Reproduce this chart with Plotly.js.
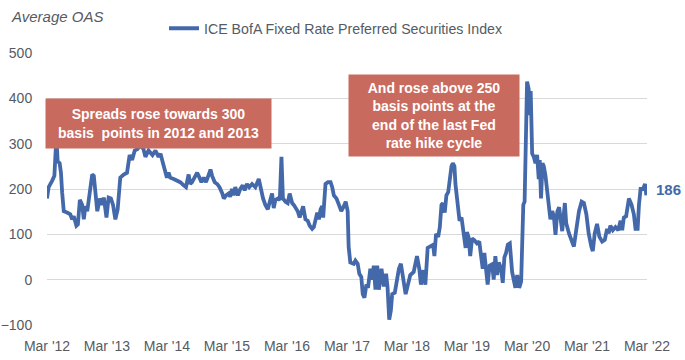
<!DOCTYPE html>
<html>
<head>
<meta charset="utf-8">
<script src="https://cdn.plot.ly/plotly-3.0.1.min.js"></script>
<style>
html,body{margin:0;padding:0;background:#fff;}
#chart{width:685px;height:360px;}
</style>
</head>
<body>
<div id="chart"></div>
<script>
const seriesName = 'ICE BofA Fixed Rate Preferred Securities Index';
const dates = [
'2012-03-01','2012-03-11','2012-04-01','2012-04-15','2012-04-27','2012-05-05','2012-05-17','2012-05-25','2012-06-01','2012-06-11',
'2012-07-01','2012-07-21','2012-08-01','2012-08-11','2012-08-27','2012-09-05','2012-09-17','2012-10-01','2012-10-11','2012-10-21',
'2012-11-01','2012-11-17','2012-12-01','2012-12-11','2012-12-21','2013-01-01','2013-01-17','2013-02-01','2013-02-10','2013-02-26',
'2013-03-11','2013-03-25','2013-04-07','2013-04-21','2013-05-05','2013-05-21','2013-06-11','2013-07-01','2013-07-17','2013-08-01',
'2013-08-17','2013-09-03','2013-09-21','2013-10-09','2013-10-21','2013-11-09','2013-12-03','2013-12-21','2014-01-09','2014-01-21',
'2014-02-05','2014-02-21','2014-03-01','2014-03-11','2014-03-21','2014-04-11','2014-05-01','2014-05-21','2014-06-11','2014-06-25',
'2014-07-11','2014-07-21','2014-08-01','2014-08-17','2014-09-01','2014-09-15','2014-09-27','2014-10-11','2014-10-25','2014-11-11',
'2014-11-21','2014-12-01','2014-12-17','2015-01-01','2015-01-15','2015-02-01','2015-02-10','2015-02-24','2015-03-11','2015-03-21',
'2015-04-01','2015-04-11','2015-04-21','2015-05-07','2015-05-21','2015-06-05','2015-06-17','2015-07-01','2015-07-15','2015-08-01',
'2015-08-21','2015-09-11','2015-09-21','2015-10-07','2015-10-21','2015-11-05','2015-11-17','2015-12-01','2015-12-11','2015-12-21',
'2016-01-05','2016-01-17','2016-01-27','2016-02-05','2016-02-21','2016-03-05','2016-03-17','2016-04-01','2016-04-11','2016-04-21',
'2016-05-05','2016-05-17','2016-05-25','2016-06-07','2016-06-21','2016-07-05','2016-07-17','2016-08-01','2016-08-11','2016-08-21',
'2016-09-01','2016-09-11','2016-09-21','2016-10-01','2016-10-07','2016-10-21','2016-11-05','2016-11-21','2016-12-01','2016-12-11',
'2016-12-27','2017-01-11','2017-01-25','2017-02-10','2017-02-21','2017-03-05','2017-03-11','2017-03-21','2017-04-11','2017-04-21',
'2017-05-05','2017-05-15','2017-05-27','2017-06-05','2017-06-15','2017-06-27','2017-07-07','2017-07-21','2017-08-01','2017-08-11',
'2017-08-21','2017-09-01','2017-09-11','2017-09-27','2017-10-11','2017-10-25','2017-11-03','2017-11-13','2017-11-23','2017-12-01',
'2017-12-17','2018-01-01','2018-01-11','2018-01-23','2018-02-05','2018-02-21','2018-03-07','2018-03-21','2018-04-11','2018-05-01',
'2018-05-15','2018-05-25','2018-06-09','2018-06-21','2018-07-05','2018-07-21','2018-08-07','2018-08-15','2018-08-25','2018-09-07',
'2018-09-17','2018-09-27','2018-10-05','2018-10-17','2018-10-27','2018-11-07','2018-11-17','2018-11-27','2018-12-05','2018-12-15',
'2018-12-21','2019-01-01','2019-01-15','2019-01-27','2019-02-10','2019-02-21','2019-03-01','2019-03-11','2019-03-21','2019-04-01',
'2019-04-15','2019-05-01','2019-05-15','2019-05-25','2019-06-05','2019-06-15','2019-06-25','2019-07-05','2019-07-17','2019-08-01',
'2019-08-11','2019-08-21','2019-09-01','2019-09-11','2019-09-25','2019-10-05','2019-10-15','2019-10-25','2019-11-05','2019-11-17',
'2019-12-01','2019-12-11','2019-12-21','2020-01-01','2020-01-13','2020-01-25','2020-02-07','2020-02-15','2020-02-25','2020-03-01',
'2020-03-11','2020-03-17','2020-03-23','2020-04-01','2020-04-11','2020-04-21','2020-05-01','2020-05-11','2020-05-17','2020-05-25',
'2020-06-03','2020-06-11','2020-06-21','2020-07-01','2020-07-11','2020-07-21','2020-08-01','2020-08-11','2020-08-21','2020-09-01',
'2020-09-12','2020-09-21','2020-10-01','2020-10-17','2020-10-25','2020-11-11','2020-11-27','2020-12-11','2020-12-25','2021-01-11',
'2021-01-27','2021-02-10','2021-02-25','2021-03-11','2021-03-27','2021-04-05','2021-04-17','2021-05-01','2021-05-15','2021-06-01',
'2021-06-17','2021-07-01','2021-07-11','2021-07-21','2021-08-05','2021-08-21','2021-09-07','2021-09-21','2021-10-01','2021-10-11',
'2021-10-25','2021-11-11','2021-11-27','2021-12-11','2021-12-21','2022-01-03','2022-01-11','2022-01-21','2022-02-05','2022-02-17',
'2022-02-25'
];
const oas = [
179,204,218,229,315,261,257,236,193,151,
148,144,133,140,119,122,176,165,133,162,
151,204,232,229,186,151,179,165,181,137,
181,179,165,133,155,225,232,236,275,264,
285,288,297,288,271,285,275,285,271,278,
257,236,225,236,225,222,218,215,208,204,
232,211,215,225,236,225,215,225,215,232,
243,229,215,211,204,190,179,186,190,183,
200,186,204,186,200,208,197,211,204,211,
204,222,204,179,165,155,172,190,158,176,
179,176,271,179,172,169,190,169,165,158,
151,137,148,162,133,130,119,112,116,133,
148,133,155,162,137,211,215,215,204,186,
179,165,151,162,172,151,73,38,35,42,
35,13,6,-32,-40,-11,-18,24,0,31,
-22,31,-22,24,-15,13,-18,-88,-68,-32,
-29,3,24,35,3,-32,-11,10,17,52,
24,-11,21,-11,70,73,77,52,101,94,
116,165,169,148,186,193,229,250,257,250,
211,179,130,137,102,70,105,94,52,91,
87,80,84,52,24,59,17,-11,31,34,
0,52,10,38,24,-7,49,59,77,80,
17,-4,-18,10,-18,-4,165,172,391,437,
420,363,416,278,271,257,275,222,264,179,
257,250,229,193,165,133,151,140,99,150,
160,125,107,169,125,102,88,73,109,151,
172,169,144,102,73,63,102,123,95,84,
88,112,102,119,109,116,109,130,109,137,
140,179,165,144,112,112,165,200,200,211,
186
];
const lastLabel = String(oas[oas.length-1]);

const lineColor = '#4469AA';
const textGray = '#555b63';
const boxColor = '#C96A5F';

const trace = {
  type: 'scatter', mode: 'lines', name: seriesName,
  x: dates, y: oas,
  line: {color: lineColor, width: 3.8},
  hoverinfo: 'skip'
};

const layout = {
  width: 685, height: 360,
  margin: {l: 47, r: 38, t: 42, b: 35},
  paper_bgcolor: '#fff', plot_bgcolor: '#fff',
  font: {family: 'Liberation Sans, Arial, sans-serif', size: 14, color: textGray},
  title: {text: '<i>Average OAS</i>', x: 12/685, xanchor: 'left', xref: 'container',
          y: 1 - 17/360, yanchor: 'middle', yref: 'container',
          font: {size: 15, color: textGray}},
  showlegend: true,
  legend: {orientation: 'h', x: 0.195, xanchor: 'left', y: 1.09, yanchor: 'middle',
           font: {size: 14.2, color: textGray}, bgcolor: 'rgba(0,0,0,0)', itemwidth: 30},
  xaxis: {
    type: 'date', range: ['2012-03-01', '2022-03-01'],
    tick0: '2012-03-01', dtick: 'M12', tickformat: "%b '%y",
    showgrid: false, zeroline: false, showline: false,
    ticks: 'outside', ticklen: 8, tickcolor: 'rgba(0,0,0,0)',
    tickfont: {size: 14, color: textGray}, fixedrange: true
  },
  yaxis: {
    range: [-100, 500], dtick: 100, tick0: 0,
    showgrid: true, gridcolor: '#d9d9d9', gridwidth: 1,
    zeroline: false, showline: false,
    ticks: 'outside', ticklen: 11, tickcolor: 'rgba(0,0,0,0)',
    tickfont: {size: 14, color: textGray}, fixedrange: true
  },
  annotations: [
    {xref: 'paper', yref: 'paper', x: 0.186, y: 0.740, xanchor: 'center', yanchor: 'middle',
     text: 'Spreads rose towards 300<br>basis  points in 2012 and 2013',
     showarrow: false, bgcolor: boxColor, width: 225, height: 49, borderpad: 0,
     align: 'center', valign: 'middle',
     font: {size: 14, color: '#ffffff', family: 'Liberation Sans, Arial, sans-serif', weight: 'bold'}},
    {xref: 'paper', yref: 'paper', x: 0.6455, y: 0.772, xanchor: 'center', yanchor: 'middle',
     text: 'And rose above 250<br>basis points at the<br>end of the last Fed<br>rate hike cycle',
     showarrow: false, bgcolor: boxColor, width: 170, height: 81, borderpad: 0,
     align: 'center', valign: 'middle',
     font: {size: 14, color: '#ffffff', family: 'Liberation Sans, Arial, sans-serif', weight: 'bold'}},
    {xref: 'x', yref: 'y', x: dates[dates.length-1], y: oas[oas.length-1],
     xanchor: 'left', yanchor: 'middle', xshift: 8, yshift: 6,
     text: '<b>' + lastLabel + '</b>', showarrow: false,
     font: {size: 15, color: lineColor}}
  ]
};

Plotly.newPlot('chart', [trace], layout, {staticPlot: true, displayModeBar: false});
</script>
</body>
</html>
